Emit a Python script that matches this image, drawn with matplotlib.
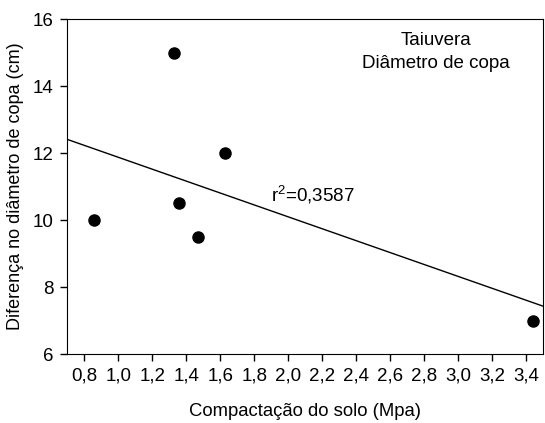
import numpy as np
import matplotlib.pyplot as plt
from matplotlib.ticker import FuncFormatter

plt.rcParams['font.family'] = ['Liberation Sans', 'DejaVu Sans']
plt.rcParams['mathtext.fontset'] = 'custom'
plt.rcParams['mathtext.rm'] = 'Liberation Sans'

# data
compactacao = np.array([0.855, 1.325, 1.355, 1.47, 1.625, 3.44])
diferenca = np.array([10.0, 15.0, 10.5, 9.5, 12.0, 7.0])
x_ticks = [0.8, 1.0, 1.2, 1.4, 1.6, 1.8, 2.0, 2.2, 2.4, 2.6, 2.8, 3.0, 3.2, 3.4]
y_ticks = [6, 8, 10, 12, 14, 16]
r2_label = r'r$^{\mathrm{2}}$=0,3587'


def comma(v, pos):
    return ('%.1f' % v).replace('.', ',')


fig = plt.figure(figsize=(5.45, 4.23), dpi=100)
ax = fig.add_axes([0.1235, 0.163, 0.8734, 0.792])

ax.scatter(compactacao, diferenca, s=64, c='k', zorder=3)

# linear regression line over the whole x range
slope, intercept = np.polyfit(compactacao, diferenca, 1)
xs = np.array([0.7, 3.5])
ax.plot(xs, slope * xs + intercept, color='k', lw=1)

ax.set_xlim(0.7, 3.5)
ax.set_ylim(6, 16)
ax.set_xticks(x_ticks)
ax.set_yticks(y_ticks)
ax.xaxis.set_major_formatter(FuncFormatter(comma))
ax.tick_params(direction='out', length=5, width=1, labelsize=13.5, pad=5)

ax.set_xlabel('Compactação do solo (Mpa)', fontsize=13.3, labelpad=13)
ax.set_ylabel('Diferença no diâmetro de copa (cm)', fontsize=13, labelpad=6)

ax.text(0.775, 0.96, 'Taiuvera\nDiâmetro de copa', transform=ax.transAxes,
        ha='center', va='top', fontsize=13.5, linespacing=1.45)
ax.text(1.9, 10.55, r2_label, fontsize=13.5, ha='left', va='baseline')

fig.savefig('out.png', dpi=100)
